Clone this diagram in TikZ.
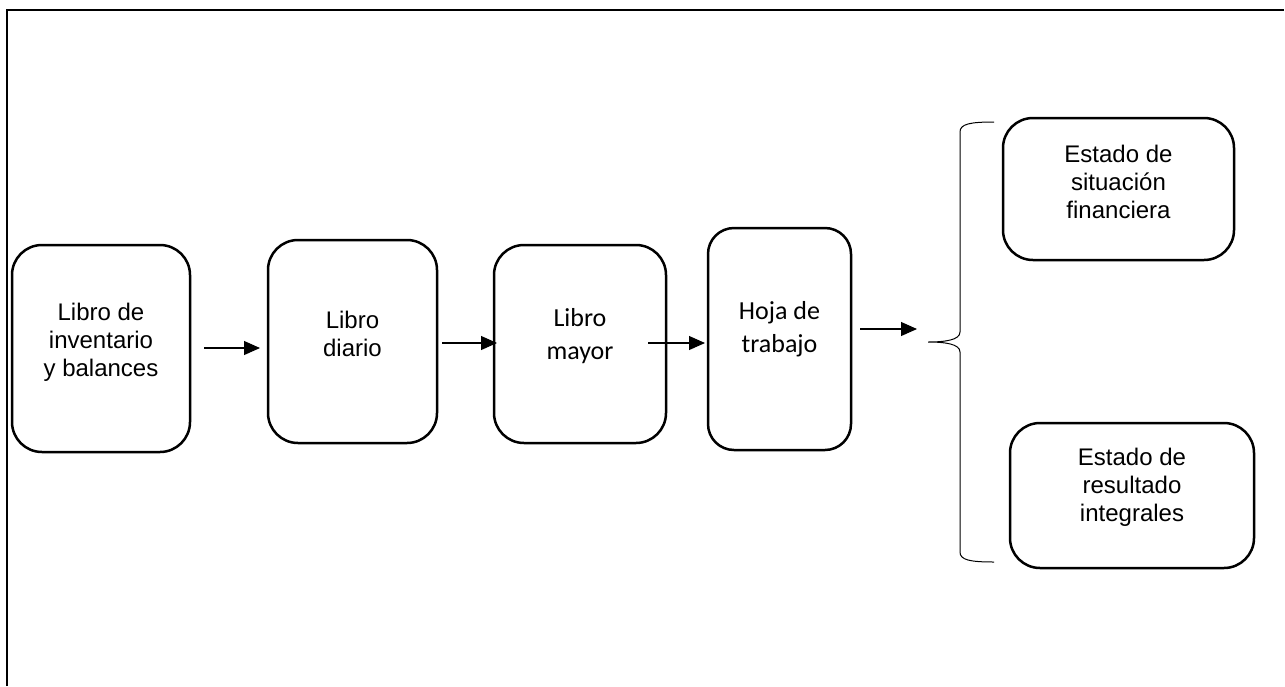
\documentclass[tikz,border=0pt]{standalone}
\usepackage{fontspec}
\setmainfont{Liberation Sans}
\newfontfamily\calibrifont{Carlito}
\usetikzlibrary{arrows.meta}
\begin{document}
\begin{tikzpicture}[x=1pt,y=-1pt,
  boxstyle/.style={draw=black, line width=2.5pt, rounded corners=30pt, inner sep=0pt},
  arialtext/.style={font=\fontsize{24}{28}\selectfont, align=center, inner sep=0pt},
  calibritext/.style={font=\calibrifont\fontsize{26}{33}\selectfont, align=center, inner sep=0pt},
  flowarrow/.style={line width=1.1pt, -{Triangle[length=16pt,width=14pt]}},
  framestyle/.style={line width=2pt}]
\useasboundingbox (0,0) rectangle (1285,686);
% frame
\coordinate (fbl) at (7,686);
\coordinate (ftl) at (7,10);
\coordinate (ftr) at (1284,10);
\draw[framestyle] (fbl) -- (ftl) -- (ftr);
% boxes
\node[boxstyle, minimum width=178pt, minimum height=207pt] (b1) at (101,348.5) {};
\node[boxstyle, minimum width=169pt, minimum height=203pt] (b2) at (352.5,341.5) {};
\node[boxstyle, minimum width=172pt, minimum height=198pt] (b3) at (580,344) {};
\node[boxstyle, minimum width=143pt, minimum height=222pt, rounded corners=26pt] (b4) at (779.5,339) {};
\node[boxstyle, minimum width=231pt, minimum height=142pt] (b5) at (1118.5,189) {};
\node[boxstyle, minimum width=244pt, minimum height=145pt] (b6) at (1132,495.5) {};
% texts
\node[arialtext] (t1) at (101,342) {Libro de\\inventario\\y balances};
\node[arialtext] (t2) at (352.5,334) {Libro\\diario};
\node[calibritext] (t3) at (580,336) {Libro\\mayor};
\node[calibritext] (t4) at (779.5,329) {Hoja de\\trabajo};
\node[arialtext] (t5) at (1118.5,182) {Estado de\\situación\\financiera};
\node[arialtext] (t6) at (1132,487) {Estado de\\resultado\\integrales};
% arrows
\coordinate (a1s) at (204,348);
\coordinate (a1e) at (260,348);
\coordinate (a2s) at (442,343);
\coordinate (a2e) at (497,343);
\coordinate (a3s) at (648,343);
\coordinate (a3e) at (705,343);
\coordinate (a4s) at (860,329);
\coordinate (a4e) at (917,329);
\draw[flowarrow] (a1s) -- (a1e);
\draw[flowarrow] (a2s) -- (a2e);
\draw[flowarrow] (a3s) -- (a3e);
\draw[flowarrow] (a4s) -- (a4e);
% brace
\coordinate (brtop) at (994,122);
\coordinate (brtip) at (928,342);
\coordinate (brbot) at (994,562);
\draw[line width=1pt]
  (brtop) .. controls (970,122) and (960,124) .. (960,132)
  -- (960,332)
  .. controls (960,340) and (945,342) .. (brtip)
  .. controls (945,342) and (960,344) .. (960,352)
  -- (960,552)
  .. controls (960,560) and (970,562) .. (brbot);
\end{tikzpicture}
\end{document}
